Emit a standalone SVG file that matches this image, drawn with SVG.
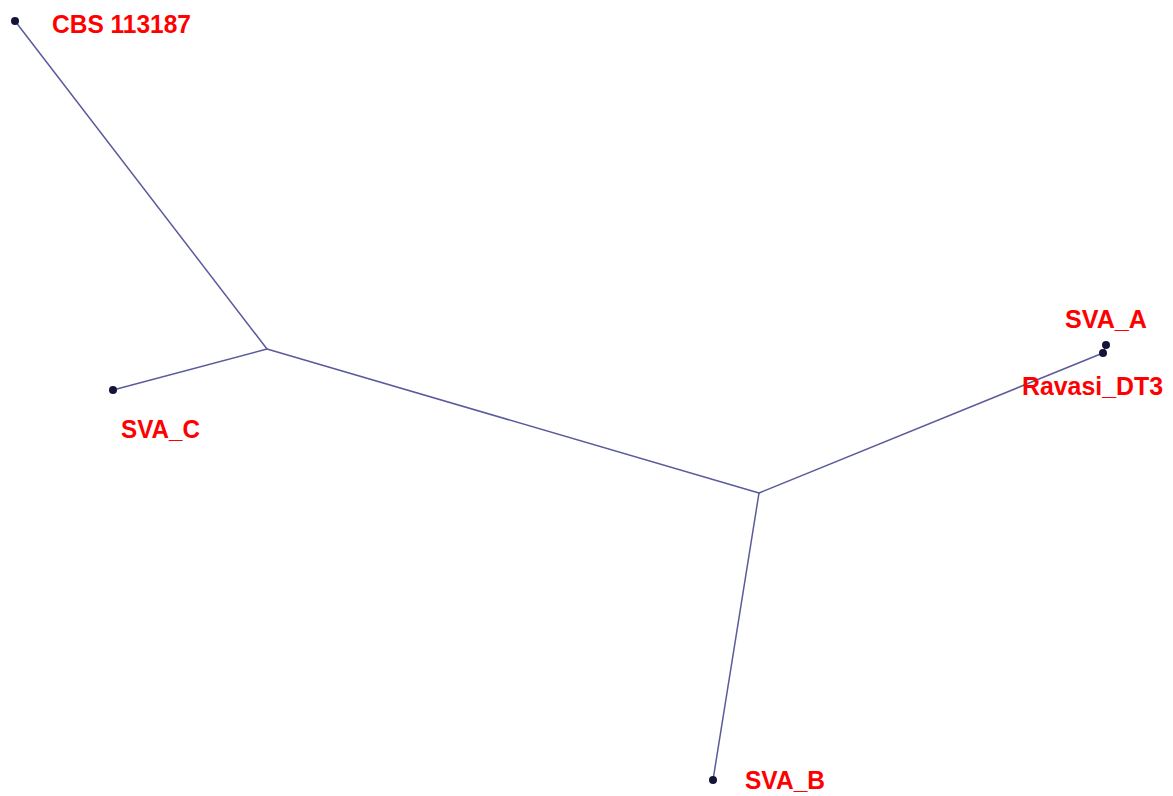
<svg xmlns="http://www.w3.org/2000/svg" width="1173" height="796" viewBox="0 0 1173 796">
<style>
.e{stroke:#5b5b9c;stroke-width:1.5;fill:none;stroke-linecap:round}
.d{fill:#141438}
.l{fill:#ff0000;font-family:"Liberation Sans",Arial,sans-serif;font-weight:bold;font-size:25px}
</style>
<rect width="1173" height="796" fill="#ffffff"/>
<g id="edges">
<line class="e" x1="15" y1="21" x2="267" y2="349"/>
<line class="e" x1="113" y1="390" x2="267" y2="349"/>
<line class="e" x1="267" y1="349" x2="759" y2="493"/>
<line class="e" x1="759" y1="493" x2="713" y2="780"/>
<line class="e" x1="759" y1="493" x2="1103" y2="353"/>
<line class="e" x1="1103" y1="353" x2="1106" y2="345"/>
</g>
<g id="cbs"><circle class="d" cx="15" cy="21" r="4"/><text class="l" x="52" y="33" textLength="139" lengthAdjust="spacingAndGlyphs">CBS 113187</text></g>
<g id="svac"><circle class="d" cx="113" cy="390" r="4"/><text class="l" x="121" y="438" textLength="79" lengthAdjust="spacingAndGlyphs">SVA_C</text></g>
<g id="svab"><circle class="d" cx="713" cy="780" r="4"/><text class="l" x="745" y="789" textLength="80" lengthAdjust="spacingAndGlyphs">SVA_B</text></g>
<g id="svaa"><circle class="d" cx="1106" cy="345" r="4"/><text class="l" x="1065" y="328" textLength="82" lengthAdjust="spacingAndGlyphs">SVA_A</text></g>
<g id="ravasi"><circle class="d" cx="1103" cy="353" r="4"/><text class="l" x="1022" y="395" textLength="141" lengthAdjust="spacingAndGlyphs">Ravasi_DT3</text></g>
</svg>
